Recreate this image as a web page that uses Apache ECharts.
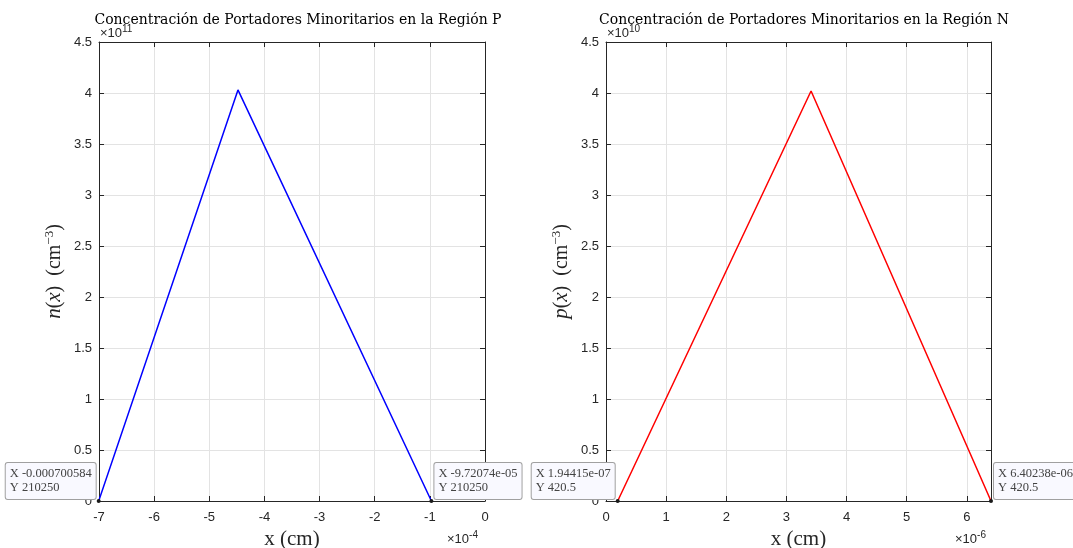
<!DOCTYPE html>
<html>
<head>
<meta charset="utf-8">
<script src="https://cdn.jsdelivr.net/npm/echarts@6/dist/echarts.min.js"></script>
<style>
  html, body { margin: 0; padding: 0; background: #fff; }
  #chart { width: 1073px; height: 548px; }
</style>
</head>
<body>
<div id="chart"></div>
<script>
// región P (x en cm, n en cm^-3)
const xP = [-7.00584e-4, -4.48e-4, -9.72074e-5];
const nP = [210250, 4.03e11, 210250];
// región N
const xN = [1.94415e-7, 3.41e-6, 6.40238e-6];
const pN = [420.5, 4.02e10, 420.5];

const xTicksP = [-7, -6, -5, -4, -3, -2, -1, 0];
const xTicksN = [0, 1, 2, 3, 4, 5, 6];
const yTicks = [0, 0.5, 1, 1.5, 2, 2.5, 3, 3.5, 4, 4.5];

const sxP = 1e-4, syP = 1e11;
const sxN = 1e-6, syN = 1e10;

const AX = '#262626';
const SERIF = '"Liberation Serif", "DejaVu Serif", serif';
const TSERIF = '"DejaVu Serif", "Liberation Serif", serif';
const SANS = '"Liberation Sans", Arial, sans-serif';

// como %g de MATLAB
function fmtG(v) {
    if (v === 0) return '0';
    const e = Math.floor(Math.log10(Math.abs(v)));
    if (e < -4 || e >= 6) {
        let s = v.toExponential(5);
        let [m, ex] = s.split('e');
        if (m.indexOf('.') >= 0) m = m.replace(/0+$/, '').replace(/\.$/, '');
        let sign = ex[0] === '-' ? '-' : '+';
        let d = ex.replace(/[+-]/, '');
        if (d.length < 2) d = '0' + d;
        return m + 'e' + sign + d;
    }
    return String(Number(v.toPrecision(6)));
}

function fmtTick(v) {
    return String(Math.round(v * 1000) / 1000);
}

function buildData(xs, ys, sx, sy) {
    return xs.map((x, i) => {
        const item = { value: [x / sx, ys[i] / sy], raw: [x, ys[i]] };
        if (i > 0 && i < xs.length - 1) {
            item.symbol = 'none';
            item.label = { show: false };
        } else if (i === 0) {
            item.label = { show: true, position: [-1, 0], align: 'right', verticalAlign: 'bottom' };
        } else {
            item.label = { show: true, position: [5, 0], align: 'left', verticalAlign: 'bottom' };
        }
        return item;
    });
}

function xAxisCfg(gi, min, max, pos, showLabel, name) {
    return {
        type: 'value', gridIndex: gi, min: min, max: max, interval: 1, position: pos,
        axisLine: { show: true, onZero: false, lineStyle: { color: AX, width: 1 } },
        axisTick: { show: true, inside: true, length: 5, lineStyle: { color: AX } },
        axisLabel: { show: showLabel, color: AX, fontFamily: SANS, fontSize: 13, margin: 10,
            formatter: fmtTick, showMaxLabel: max === 0 },
        splitLine: { show: showLabel, lineStyle: { color: '#e3e3e3', width: 1 } },
        name: name, nameLocation: 'middle', nameGap: 22,
        nameTextStyle: { fontFamily: SERIF, fontSize: 21, color: AX }
    };
}

function yAxisCfg(gi, pos, showLabel, name) {
    return {
        type: 'value', gridIndex: gi, min: 0, max: 4.5, interval: 0.5, position: pos,
        axisLine: { show: true, onZero: false, lineStyle: { color: AX, width: 1 } },
        axisTick: { show: true, inside: true, length: 5, lineStyle: { color: AX } },
        axisLabel: { show: showLabel, color: AX, fontFamily: SANS, fontSize: 13, margin: 7, formatter: fmtTick },
        splitLine: { show: showLabel, lineStyle: { color: '#e3e3e3', width: 1 } },
        name: name, nameLocation: 'middle', nameGap: 33, nameRotate: 90,
        nameTextStyle: {
            fontFamily: SERIF, fontSize: 20, color: AX,
            rich: {
                it: { fontFamily: SERIF, fontStyle: 'italic', fontSize: 21, color: AX },
                rm: { fontFamily: SERIF, fontSize: 21, color: AX },
                sup: { fontFamily: SERIF, fontSize: 13, color: AX, verticalAlign: 'top', padding: [0, 0, 10, 0] }
            }
        }
    };
}

const tipLabel = {
    show: true,
    formatter: p => '{a|X ' + fmtG(p.data.raw[0]) + '}\n{a|Y ' + fmtG(p.data.raw[1]) + '}',
    rich: { a: { fontFamily: SERIF, fontSize: 12.5, color: '#444', lineHeight: 14, align: 'left' } },
    backgroundColor: '#f9f9ff', borderColor: '#a0a0a0', borderWidth: 1, borderRadius: 2,
    padding: [4, 4, 4, 4]
};

const expRich = { s: { fontSize: 10, fontFamily: SANS, fill: AX, verticalAlign: 'top', padding: [0, 0, 8, 0] } };

const chart = echarts.init(document.getElementById('chart'), null, { renderer: 'canvas' });

chart.setOption({
    animation: false,
    backgroundColor: '#fff',
    title: [
        { text: 'Concentración de Portadores Minoritarios en la Región P', left: 293, top: 8, textAlign: 'center',
          textStyle: { fontFamily: TSERIF, fontWeight: 'normal', fontSize: 14, color: '#000' } },
        { text: 'Concentración de Portadores Minoritarios en la Región N', left: 799, top: 8, textAlign: 'center',
          textStyle: { fontFamily: TSERIF, fontWeight: 'normal', fontSize: 14, color: '#000' } }
    ],
    grid: [
        { left: 99, right: 588, top: 42, bottom: 47, outerBoundsMode: 'none' },
        { left: 606, right: 82, top: 42, bottom: 47, outerBoundsMode: 'none' }
    ],
    xAxis: [
        xAxisCfg(0, xTicksP[0], xTicksP[xTicksP.length - 1], 'bottom', true, 'x (cm)'),
        xAxisCfg(0, xTicksP[0], xTicksP[xTicksP.length - 1], 'top', false, ''),
        xAxisCfg(1, xTicksN[0], xN[xN.length - 1] / sxN, 'bottom', true, 'x (cm)'),
        xAxisCfg(1, xTicksN[0], xN[xN.length - 1] / sxN, 'top', false, '')
    ],
    yAxis: [
        yAxisCfg(0, 'left', true, '{it|n}({it|x})  (cm{sup|−3})'),
        yAxisCfg(0, 'right', false, ''),
        yAxisCfg(1, 'left', true, '{it|p}({it|x})  (cm{sup|−3})'),
        yAxisCfg(1, 'right', false, '')
    ],
    series: [
        {
            type: 'line', xAxisIndex: 0, yAxisIndex: 0, clip: false,
            data: buildData(xP, nP, sxP, syP),
            lineStyle: { color: '#0000ff', width: 1.5 },
            symbol: 'circle', symbolSize: 4, showAllSymbol: true,
            itemStyle: { color: '#1a1a1a' },
            label: tipLabel, z: 5
        },
        {
            type: 'line', xAxisIndex: 2, yAxisIndex: 2, clip: false,
            data: buildData(xN, pN, sxN, syN),
            lineStyle: { color: '#ff0000', width: 1.5 },
            symbol: 'circle', symbolSize: 4, showAllSymbol: true,
            itemStyle: { color: '#1a1a1a' },
            label: tipLabel, z: 5
        }
    ],
    graphic: [
        { type: 'text', left: 100, top: 24, style: { text: '×10{s|11}', fontFamily: SANS, fontSize: 13, fill: AX, rich: expRich } },
        { type: 'text', left: 607, top: 24, style: { text: '×10{s|10}', fontFamily: SANS, fontSize: 13, fill: AX, rich: expRich } },
        { type: 'text', left: 447, top: 530, style: { text: '×10{s|-4}', fontFamily: SANS, fontSize: 13, fill: AX, rich: expRich } },
        { type: 'text', left: 955, top: 530, style: { text: '×10{s|-6}', fontFamily: SANS, fontSize: 13, fill: AX, rich: expRich } }
    ]
});
</script>
</body>
</html>
